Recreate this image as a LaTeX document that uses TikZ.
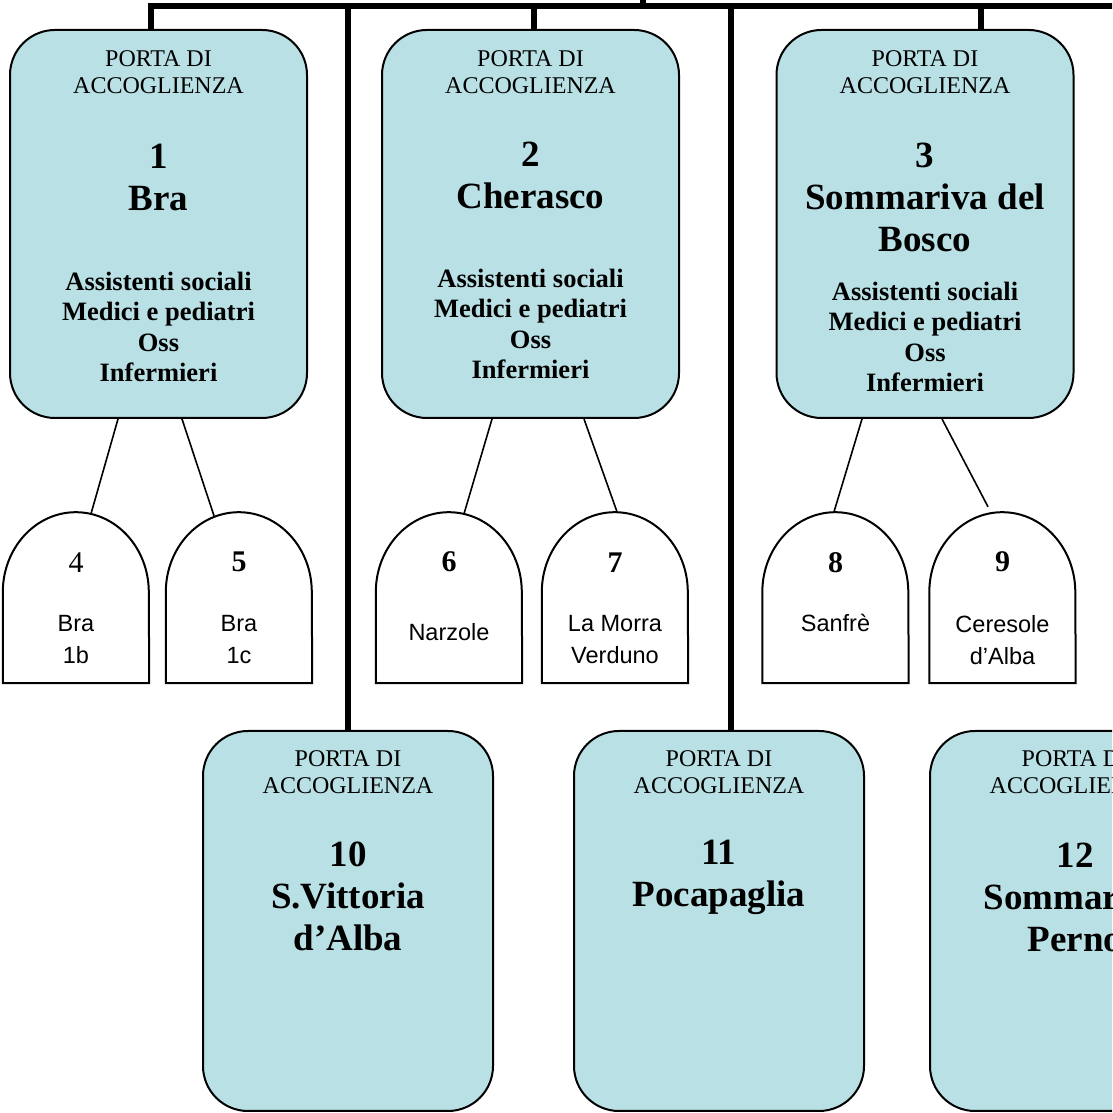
\documentclass[tikz,border=0pt]{standalone}
\usepackage{fontspec}
\setmainfont{Liberation Serif}
\newfontfamily\arialfont{Liberation Sans}
\usetikzlibrary{calc}
\definecolor{portablue}{RGB}{185,224,228}

\tikzset{
  portabox/.style={draw, line width=2pt, fill=portablue, rounded corners=45pt,
    minimum width=297pt, minimum height=388pt, inner sep=0pt},
  lowbox/.style={portabox, minimum width=290pt, minimum height=380pt},
  archbox/.style={minimum width=146pt, minimum height=171pt, inner sep=0pt},
  archline/.style={draw, fill=white, line width=2pt},
  porta/.style={font=\fontsize{24}{27}\selectfont, align=center, inner sep=0pt},
  nome/.style={font=\fontsize{37}{42}\selectfont\bfseries, align=center, inner sep=0pt},
  staff/.style={font=\fontsize{26.5}{30.5}\selectfont\bfseries, align=center, inner sep=0pt},
  numero/.style={font=\fontsize{30}{34}\selectfont, inner sep=0pt},
  paese/.style={font=\arialfont\fontsize{23.5}{32}\selectfont, align=center, inner sep=0pt},
  trunk/.style={line width=6pt},
  link/.style={line width=1.6pt}
}

\begin{document}
\begin{tikzpicture}[x=1pt, y=1pt]
    \useasboundingbox (0,0) rectangle (1112,1113);
    \clip (0,0) rectangle (1112,1113);

    % porte di accoglienza
    \node[portabox] (p1) at (158.5,889) {};
    \node[portabox] (p2) at (530.5,889) {};
    \node[portabox] (p3) at (925,889) {};
    \node[lowbox] (p10) at (348,192) {};
    \node[lowbox] (p11) at (719,192) {};
    \node[lowbox] (p12) at (1075,192) {};

    \foreach \p in {p1,p2,p3}{
      \node[porta] at ($(\p.north)+(0,-43.5)$) {PORTA DI\\ACCOGLIENZA};
    }
    \foreach \p in {p10,p11,p12}{
      \node[porta] at ($(\p.north)+(0,-42.5)$) {PORTA DI\\ACCOGLIENZA};
    }
    \node[nome] at ($(p1.north)+(0,-148)$) {1\\Bra};
    \node[nome] at ($(p2.north)+(0,-146)$) {2\\Cherasco};
    \node[nome] at ($(p3.north)+(0,-168)$) {3\\Sommariva del\\Bosco};
    \node[nome] at ($(p10.north)+(0,-166.5)$) {10\\S.Vittoria\\d’Alba};
    \node[nome] at ($(p11.north)+(0,-147)$) {11\\Pocapaglia};
    \node[nome] at ($(p12.north)+(0,-167)$) {12\\Sommariva\\Perno};

    \node[staff] at ($(p1.north)+(0,-298)$) {Assistenti sociali\\Medici e pediatri\\Oss\\Infermieri};
    \node[staff] at ($(p2.north)+(0,-295)$) {Assistenti sociali\\Medici e pediatri\\Oss\\Infermieri};
    \node[staff] at ($(p3.north)+(0,-308)$) {Assistenti sociali\\Medici e pediatri\\Oss\\Infermieri};

    % sedi
    \foreach \nm/\x/\num/\lab/\ly in {n4/76/4/{Bra\\1b}/473,
        n5/239/{\bfseries 5}/{Bra\\1c}/473,
        n6/449/{\bfseries 6}/{Narzole}/481,
        n7/615/{\bfseries 7}/{La Morra\\Verduno}/473,
        n8/835.5/{\bfseries 8}/{Sanfrè}/490,
        n9/1002.5/{\bfseries 9}/{Ceresole\\d’Alba}/473}{
      \node[archbox] (\nm) at (\x,515.5) {};
      \draw[archline] (\nm.south west) -- ++(0,91)
        arc[start angle=180, end angle=0, x radius=73, y radius=80]
        -- (\nm.south east) -- cycle;
      \node[numero] at ($(\nm.south)+(0,121)$) {\num};
      \node[paese] at (\x,\ly) {\lab};
    }

    % collegamenti
    \draw[link] ($(p1.south)+(-40.5,0)$) -- ($(n4.north)+(15,-2)$);
    \draw[link] ($(p1.south)+(23.5,0)$) -- ($(n5.north)+(-25,-4)$);
    \draw[link] ($(p2.south)+(-38.5,0)$) -- ($(n6.north)+(15,-2)$);
    \draw[link] ($(p2.south)+(53.5,0)$) -- ($(n7.north)+(2,0)$);
    \draw[link] ($(p3.south)+(-63,0)$) -- ($(n8.north)+(-1.5,0)$);
    \draw[link] ($(p3.south)+(17,0)$) -- ($(n9.north)+(-14.5,5)$);

    % linea principale
    \coordinate (b1) at (150.5,1106.7);
    \coordinate (b2) at (347.5,1106.7);
    \coordinate (b3) at (533.5,1106.7);
    \coordinate (b0) at (642.5,1106.7);
    \coordinate (b4) at (730.5,1106.7);
    \coordinate (b5) at (980.5,1106.7);
    \coordinate (top) at (642.5,1116);
    \coordinate (barend) at (1118,1106.7);
    \draw[trunk] (b1 |- p1.north) -- (b1) -- (barend);
    \draw[trunk] (b0) -- (top);
    \draw[trunk] (b2) -- (b2 |- p10.north);
    \draw[trunk] (b3) -- (b3 |- p2.north);
    \draw[trunk] (b4) -- (b4 |- p11.north);
    \draw[trunk] (b5) -- (b5 |- p3.north);
\end{tikzpicture}
\end{document}
